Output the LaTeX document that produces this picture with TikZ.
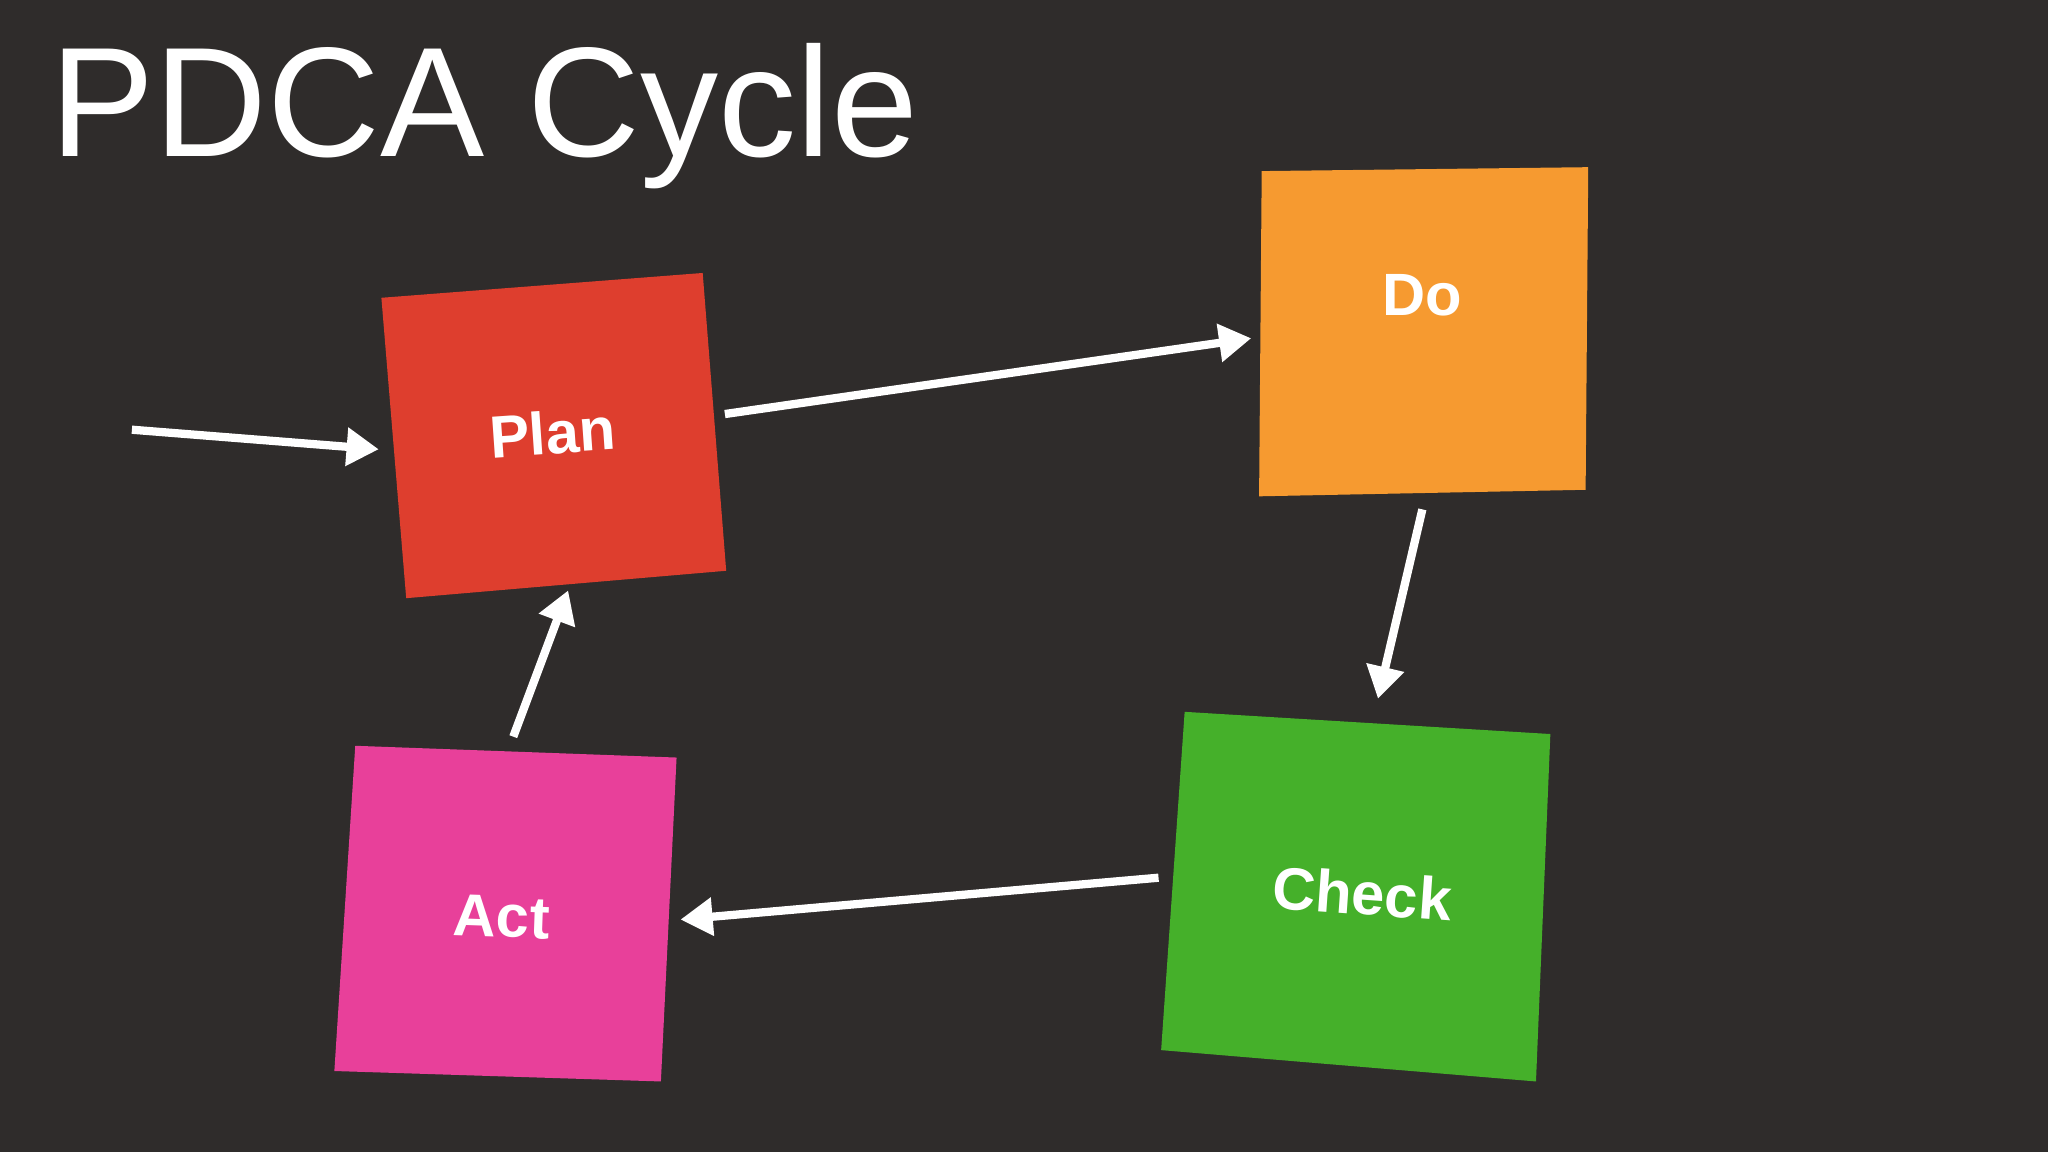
\documentclass[tikz,border=0pt]{standalone}
\usepackage{fontspec}
\setmainfont{Liberation Sans}
\usetikzlibrary{arrows.meta}
\definecolor{bg}{HTML}{2F2C2B}
\definecolor{planc}{HTML}{DE3E2E}
\definecolor{doc}{HTML}{F69A30}
\definecolor{checkc}{HTML}{45B02A}
\definecolor{actc}{HTML}{E8409A}
\tikzset{
  note/.style={draw=none},
  lbl/.style={text=white,font=\bfseries\fontsize{13}{15}\selectfont},
  flow/.style={draw=white,line width=1.8pt,-{Triangle[length=7pt,width=8pt]}}
}
\begin{document}
\begin{tikzpicture}[x=0.01cm,y=-0.01cm]
\fill[bg] (0,0) rectangle (1568,882);
\useasboundingbox (0,0) rectangle (1568,882);
\node[anchor=base west,text=white,font=\fontsize{34}{38}\selectfont,inner sep=0] (title) at (38,120) {PDCA Cycle};
\fill[planc] (292,228) -- (538,209) -- (556,437) -- (311,458) -- cycle;
\fill[doc] (966,131) -- (1216,128) -- (1214,375) -- (964,380) -- cycle;
\fill[checkc] (907,545) -- (1187,562) -- (1176,828) -- (889,804) -- cycle;
\fill[actc] (272,571) -- (518,580) -- (506,828) -- (256,820) -- cycle;
\node[lbl,rotate=4] (plan) at (423,331) {Plan};
\node[lbl] (do) at (1089,226) {Do};
\node[lbl,rotate=-4] (check) at (1043,684) {Check};
\node[lbl,rotate=-2] (act) at (384,702) {Act};
\coordinate (s0) at (101,329); \coordinate (e0) at (290,344);
\coordinate (s1) at (555,317); \coordinate (e1) at (958,259);
\coordinate (s2) at (1089,390); \coordinate (e2) at (1055,535);
\coordinate (s3) at (887,672); \coordinate (e3) at (521,704);
\coordinate (s4) at (393,564); \coordinate (e4) at (435,452);
\draw[flow] (s0) -- (e0);
\draw[flow] (s1) -- (e1);
\draw[flow] (s2) -- (e2);
\draw[flow] (s3) -- (e3);
\draw[flow] (s4) -- (e4);
\end{tikzpicture}
\end{document}
